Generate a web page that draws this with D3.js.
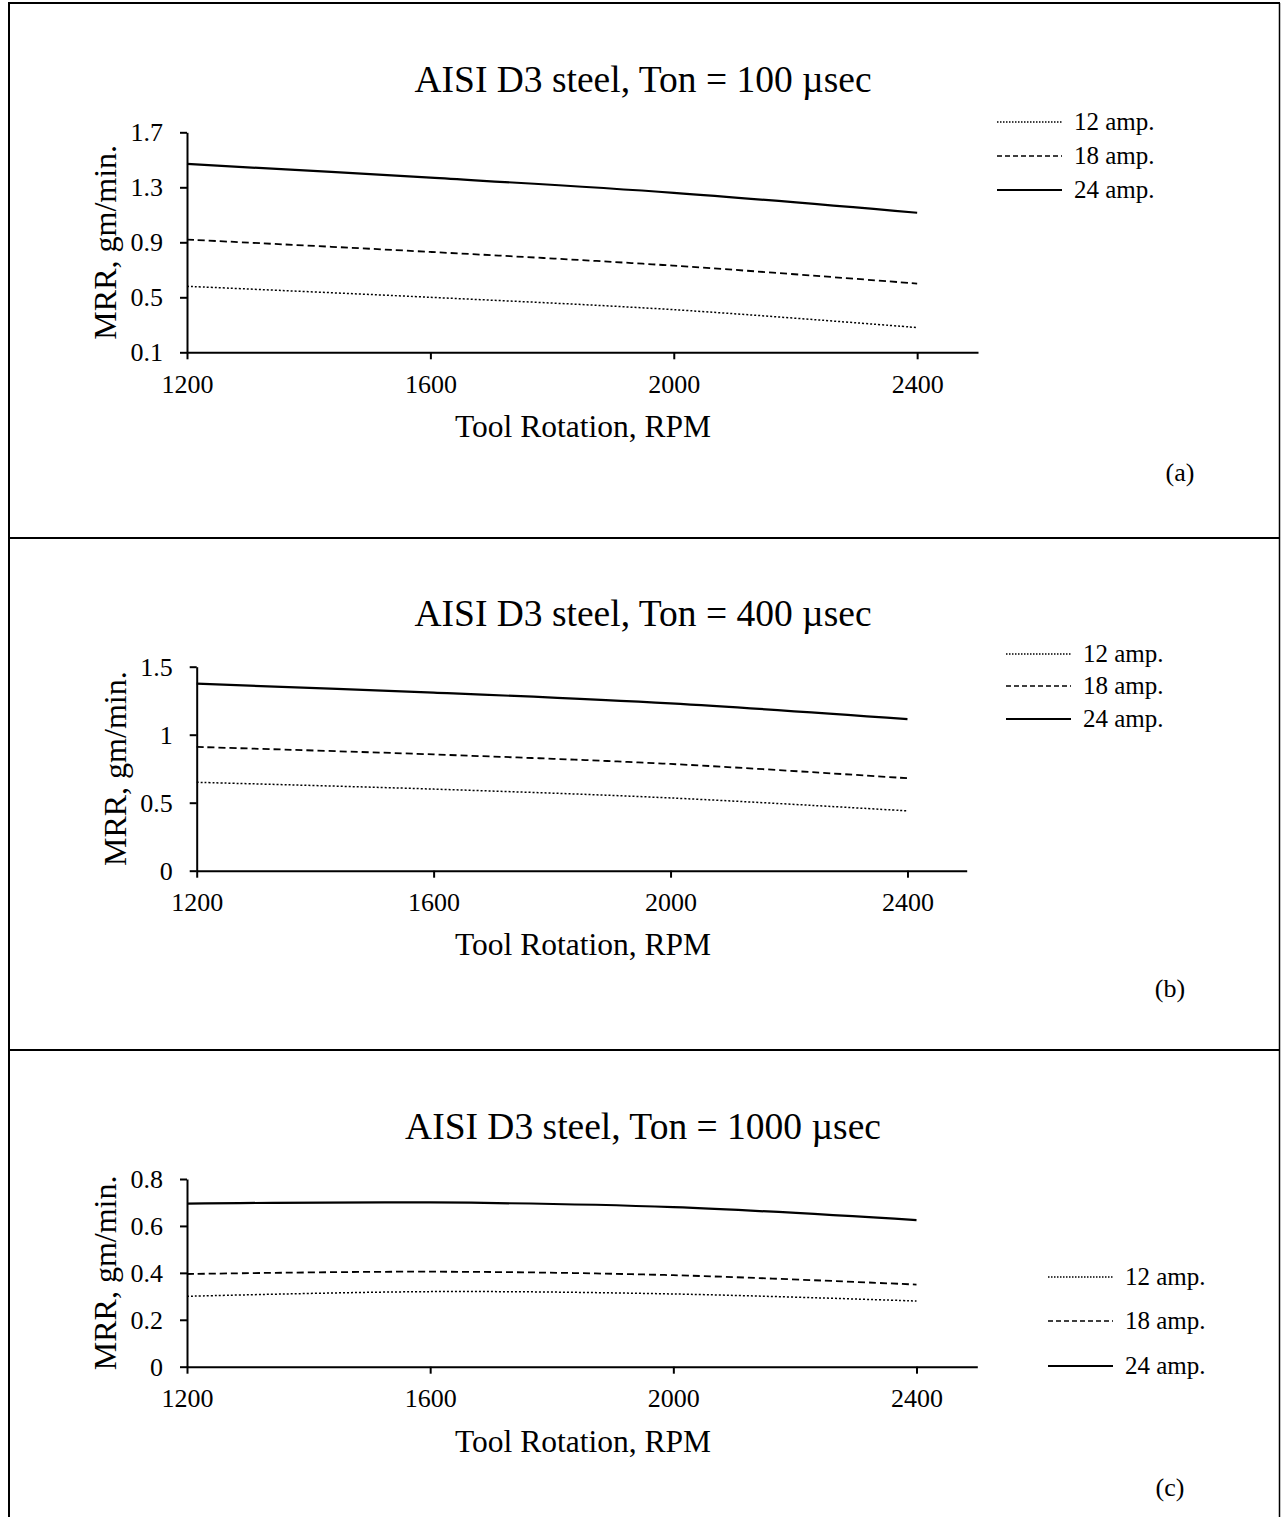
<!DOCTYPE html>
<html>
<head>
<meta charset="utf-8">
<script src="https://cdn.jsdelivr.net/npm/d3@7"></script>
<style>
  body { margin: 0; background: #fff; }
  svg text { font-family: "Liberation Serif", "Times New Roman", serif; fill: #000; }
</style>
</head>
<body>
<div id="chart"></div>
<script>
// tool rotation (rpm) where the curves were read
const rpm = [1200, 1600, 2000, 2400];
const xTicks = [1200, 1600, 2000, 2400];
const ampLabels = ['12 amp.', '18 amp.', '24 amp.'];

// Ton = 100 µsec
const mrrA12 = [0.58, 0.50, 0.41, 0.28];
const mrrA18 = [0.92, 0.83, 0.73, 0.60];
const mrrA24 = [1.47, 1.37, 1.26, 1.115];
const yTicksA = [0.1, 0.5, 0.9, 1.3, 1.7];

// Ton = 400 µsec
const mrrB12 = [0.65, 0.60, 0.535, 0.44];
const mrrB18 = [0.91, 0.855, 0.785, 0.68];
const mrrB24 = [1.375, 1.31, 1.23, 1.115];
const yTicksB = [0, 0.5, 1, 1.5];

// Ton = 1000 µsec
const mrrC12 = [0.30, 0.32, 0.31, 0.28];
const mrrC18 = [0.395, 0.405, 0.39, 0.35];
const mrrC24 = [0.695, 0.70, 0.68, 0.625];
const yTicksC = [0, 0.2, 0.4, 0.6, 0.8];

const titles = [
    'AISI D3 steel, Ton = 100 µsec',
    'AISI D3 steel, Ton = 400 µsec',
    'AISI D3 steel, Ton = 1000 µsec'
];
const tags = ['(a)', '(b)', '(c)'];

const width = 1281, height = 1517;

const svg = d3.select('#chart').append('svg')
    .attr('width', width)
    .attr('height', height);

// frame round the three panels
const frame = svg.append('g').attr('stroke', '#000').attr('stroke-width', 2);
frame.append('line').attr('x1', 9).attr('x2', 9).attr('y1', 3).attr('y2', height);
frame.append('line').attr('x1', 1279.5).attr('x2', 1279.5).attr('y1', 3).attr('y2', height).attr('stroke-width', 1.5);
[3, 538, 1050].forEach(y => {
    frame.append('line').attr('x1', 8).attr('x2', 1280).attr('y1', y).attr('y2', y);
});

const dashes = ['2,2', '7,4', null];
const legendDashes = ['1.5,1.5', '5,3', null];
const strokeW = [1.5, 1.8, 2.2];

const panels = [
    {series: [mrrA12, mrrA18, mrrA24], yDomain: [0.1, 1.7], yTicks: yTicksA,
     left: 187, right: 978, top: 132.3, bottom: 352.3, titleY: 92, xLabY: 437, tagX: 1180, tagY: 481,
     ylabX: 116, legX: 997, legY: [122, 156, 190]},
    {series: [mrrB12, mrrB18, mrrB24], yDomain: [0, 1.5], yTicks: yTicksB,
     left: 196.7, right: 966.7, top: 666.7, bottom: 870.7, titleY: 626, xLabY: 955, tagX: 1170, tagY: 997,
     ylabX: 126, legX: 1006, legY: [654, 686, 719]},
    {series: [mrrC12, mrrC18, mrrC24], yDomain: [0, 0.8], yTicks: yTicksC,
     left: 187, right: 977.3, top: 1179, bottom: 1366.7, titleY: 1139, xLabY: 1452, tagX: 1170, tagY: 1496,
     ylabX: 116, legX: 1048, legY: [1277, 1321, 1366]}
];

panels.forEach((p, i) => {
    const g = svg.append('g');

    const x = d3.scaleLinear().domain([1200, 2500]).range([p.left, p.right]);
    const y = d3.scaleLinear().domain(p.yDomain).range([p.bottom, p.top]);

    const xAxis = g.append('g')
        .attr('transform', `translate(0,${p.bottom})`)
        .call(d3.axisBottom(x).tickValues(xTicks).tickSize(7).tickPadding(15).tickSizeOuter(0)
            .tickFormat(d3.format('d')));
    const yAxis = g.append('g')
        .attr('transform', `translate(${p.left},0)`)
        .call(d3.axisLeft(y).tickValues(p.yTicks).tickSize(7).tickPadding(17).tickSizeOuter(0)
            .tickFormat(d3.format('')));

    [xAxis, yAxis].forEach(a => {
        a.select('.domain').attr('stroke', '#000').attr('stroke-width', 2);
        a.selectAll('.tick line').attr('stroke', '#000').attr('stroke-width', 2);
        a.selectAll('.tick text').attr('font-size', 26);
    });

    const line = d3.line()
        .x((d, j) => x(rpm[j]))
        .y(d => y(d))
        .curve(d3.curveCatmullRom);

    g.selectAll('path.series')
        .data(p.series)
        .join('path')
        .classed('series', true)
        .attr('d', line)
        .attr('fill', 'none')
        .attr('stroke', '#000')
        .attr('stroke-width', (d, j) => strokeW[j])
        .attr('stroke-dasharray', (d, j) => dashes[j]);

    // chart title
    g.append('text')
        .attr('x', 643).attr('y', p.titleY)
        .attr('text-anchor', 'middle')
        .attr('font-size', 37.5)
        .text(titles[i]);

    g.append('text')
        .attr('x', 583).attr('y', p.xLabY)
        .attr('text-anchor', 'middle')
        .attr('font-size', 31.5)
        .text('Tool Rotation, RPM');

    g.append('text')
        .attr('transform', `translate(${p.ylabX},${(p.top + p.bottom) / 2}) rotate(-90)`)
        .attr('text-anchor', 'middle')
        .attr('font-size', 32)
        .text('MRR, gm/min.');

    g.append('text')
        .attr('x', p.tagX).attr('y', p.tagY)
        .attr('text-anchor', 'middle')
        .attr('font-size', 26)
        .text(tags[i]);

    // legend
    const leg = g.append('g').selectAll('g')
        .data(ampLabels)
        .join('g')
        .attr('transform', (d, j) => `translate(${p.legX},${p.legY[j]})`);
    leg.append('line')
        .attr('x1', 0).attr('x2', 65)
        .attr('stroke', '#000')
        .attr('stroke-width', (d, j) => j === 2 ? 2 : 1.3)
        .attr('stroke-dasharray', (d, j) => legendDashes[j]);
    leg.append('text')
        .attr('x', 77).attr('y', 8)
        .attr('font-size', 25)
        .text(d => d);
});
</script>
</body>
</html>
